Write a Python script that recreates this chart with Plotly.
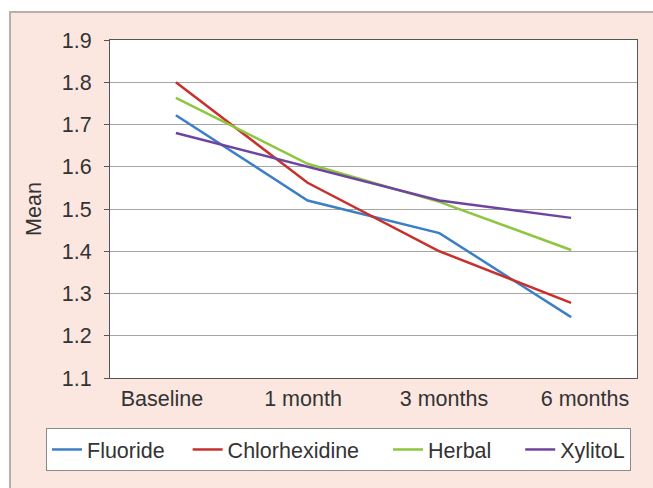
import plotly.graph_objects as go

categories = ["Baseline", "1 month", "3 months", "6 months"]
fluoride = [1.722, 1.52, 1.443, 1.244]
chlorhexidine = [1.80, 1.562, 1.40, 1.278]
herbal = [1.763, 1.607, 1.517, 1.403]
xylitol = [1.68, 1.60, 1.52, 1.479]
series_names = ["Fluoride", "Chlorhexidine", "Herbal", "XylitoL"]
series_colors = ["#3c7fc6", "#c8302c", "#8dc63f", "#6f44a0"]
legend_pad = [3, 4, 4, 0]
y_ticks = [1.1, 1.2, 1.3, 1.4, 1.5, 1.6, 1.7, 1.8, 1.9]

W, H = 653, 488
L, R, T, B = 110, 16, 40, 110
pw, ph = W - L - R, H - T - B

def px_x(x):
    return (x - L) / pw

def px_y(y):
    return (H - B - y) / ph

fig = go.Figure()
for name, vals, col, pad in zip(series_names, [fluoride, chlorhexidine, herbal, xylitol], series_colors, legend_pad):
    fig.add_trace(go.Scatter(x=categories, y=vals, mode="lines", name=name + "\u00a0" * pad,
                             line=dict(color=col, width=2.5)))
# empty trace to hold the label axis
fig.add_trace(go.Scatter(x=[], y=[], xaxis="x2", showlegend=False, hoverinfo="skip"))

font = dict(family="Liberation Sans, Arial, sans-serif", size=21.5, color="#333333")

# label axis: tick labels are spaced a little wider than the data points in the reference
lab_first, lab_step = 162, 141
r0 = -(lab_first - L) / lab_step
r1 = r0 + pw / lab_step

fig.update_layout(
    width=W, height=H,
    margin=dict(l=L, r=R, t=T, b=B, autoexpand=False),
    paper_bgcolor="white",
    plot_bgcolor="white",
    font=font,
    showlegend=True,
    legend=dict(orientation="h", x=px_x(46), xanchor="left", y=px_y(428), yanchor="top",
                bordercolor="#8a8a8a", borderwidth=1, bgcolor="white",
                font=font, itemwidth=30, traceorder="normal"),
    xaxis=dict(type="category", range=[-0.5, 3.5], showgrid=False, showline=True,
               linecolor="#555555", linewidth=1, mirror=True, ticks="",
               showticklabels=False, automargin=False),
    xaxis2=dict(type="linear", overlaying="x", side="bottom", range=[r0, r1],
                tickvals=list(range(len(categories))), ticktext=categories,
                showgrid=False, showline=False, zeroline=False, ticks="",
                tickfont=font, automargin=False, ticklabelstandoff=5),
    yaxis=dict(range=[1.1, 1.9], tickvals=y_ticks, tickformat=".1f", showgrid=True,
               gridcolor="#a5a5a5", gridwidth=1, showline=True, linecolor="#555555",
               linewidth=1, mirror=True, ticks="outside", ticklen=5, tickcolor="#555555",
               tickfont=font, zeroline=False, automargin=False, ticklabelstandoff=8,
               title=dict(text="Mean", font=font, standoff=14)),
    shapes=[
        dict(type="rect", xref="paper", yref="paper", layer="below",
             x0=px_x(10), x1=px_x(670), y0=px_y(500), y1=px_y(12),
             fillcolor="#fbe7e0", line=dict(color="#b5b0ae", width=2)),
        dict(type="rect", xref="paper", yref="paper", layer="below",
             x0=0, x1=1, y0=0, y1=1, fillcolor="white", line=dict(width=0)),
    ],
)

fig.write_html("out.html", config={"displayModeBar": False},
               post_script="document.body.style.margin='0';")
